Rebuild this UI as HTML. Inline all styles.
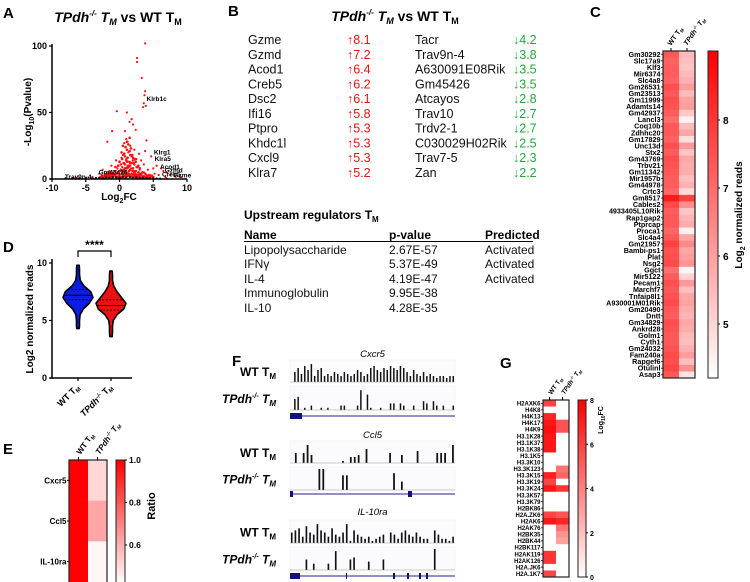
<!DOCTYPE html>
<html><head><meta charset="utf-8">
<style>
html,body{margin:0;padding:0;background:#fff;}
svg{display:block;font-family:"Liberation Sans",Arial,sans-serif;}
</style></head>
<body>
<svg id="fig" width="750" height="582" viewBox="0 0 750 582" xmlns="http://www.w3.org/2000/svg">
<text x="3" y="18" font-size="15" font-weight="bold">A</text>
<text x="228" y="16" font-size="15" font-weight="bold">B</text>
<text x="590" y="17" font-size="15" font-weight="bold">C</text>
<text x="3" y="252" font-size="15" font-weight="bold">D</text>
<text x="3" y="454" font-size="15" font-weight="bold">E</text>
<text x="232" y="366" font-size="15" font-weight="bold">F</text>
<text x="500" y="368" font-size="15" font-weight="bold">G</text>

<text x="118" y="22" font-size="14" font-weight="bold" text-anchor="middle"><tspan font-style="italic">TPdh</tspan><tspan font-size="8" dy="-6" font-style="italic">-/-</tspan><tspan dy="6" font-style="italic"> T</tspan><tspan font-size="9" dy="3" font-style="italic">M</tspan><tspan dy="-3"> vs WT T</tspan><tspan font-size="9" dy="3">M</tspan></text>
<g id="volcano"></g>

<text x="395" y="21" font-size="14" font-weight="bold" text-anchor="middle"><tspan font-style="italic">TPdh</tspan><tspan font-size="8" dy="-6" font-style="italic">-/-</tspan><tspan dy="6" font-style="italic"> T</tspan><tspan font-size="9" dy="3" font-style="italic">M</tspan><tspan dy="-3"> vs WT T</tspan><tspan font-size="9" dy="3">M</tspan></text>
<g id="genetable"></g>

<g>
<text x="244" y="219" font-size="12" font-weight="bold">Upstream regulators T<tspan font-size="8" dy="3">M</tspan></text>
<text x="244" y="239" font-size="12" font-weight="bold">Name</text>
<text x="389" y="239" font-size="12" font-weight="bold">p-value</text>
<text x="485" y="239" font-size="12" font-weight="bold">Predicted</text>
<line x1="244" y1="241.5" x2="533" y2="241.5" stroke="#000" stroke-width="1"/>
<g font-size="12" fill="#111">
<text x="244" y="254">Lipopolysaccharide</text><text x="389" y="254">2.67E-57</text><text x="485" y="254">Activated</text>
<text x="244" y="268">IFNγ</text><text x="389" y="268">5.37E-49</text><text x="485" y="268">Activated</text>
<text x="244" y="283">IL-4</text><text x="389" y="283">4.19E-47</text><text x="485" y="283">Activated</text>
<text x="244" y="297">Immunoglobulin</text><text x="389" y="297">9.95E-38</text>
<text x="244" y="312">IL-10</text><text x="389" y="312">4.28E-35</text>
</g></g>

<g id="heatC"></g>
<g id="violin"></g>
<g id="heatE"></g>
<g id="tracks"></g>
<g id="heatG"></g>
</svg>
<script>
// ---------- DATA ----------
const volcanoRedFC = [3.8,2.6,2.6,3.3,3.8,3.7,3.6,3.5,3.9,-0.4,1.8,2.0,1.1,1.5,0.8,-1.1,2.4,4.0,1.0,1.2,0.7,3.8,4.7,-1.8,1.6,2.2,0.9,1.3,2.9,0.5,1.8,2.5,3.2,0.3,1.0,1.5,-0.5,2.1,0.7,3.6,5.5,6.2,5.0,-1.2,1.2,2.7,0.4,-0.3,1.7,3.0,4.2,6.5,7.0,-2.5,-1.5,0.2,0.9,2.0,2.8,3.6,5.2,-3.0,-2,-0.8,0.6,1.4,2.3,3.1,4.5,5.8,7.5,8.2,-1,0,1,1.9,2.6,3.5,-2.3,-0.4,0.5,1.5,2.2,4.0,6.8,-4,-6.5,9.1,0.8,1.1,1.4,0.6,1.7,2.1,0.9,1.2,1.6,0.4,2.4,1.0,0.7,1.3,1.9,2.8,0.2,1.5,2.5,3.3,-0.2,0.5];
const volcanoRedP  = [102,91,88,76,66,63,57,54,55,51,45,41,50,43,36,36,37,29,30,28,27,21,17,28,25,22,24,20,19,18,17,15,14,16,15,13,14,12,12,11,10,8,8,10,10,9,9,8,8,7,7,6,5,7,6,6,6,6,5,5,4,4,4,4,4,4,4,3,3,3,3,2,3,3,3,3,2,2,2,2,2,2,1.5,1.5,1.5,1.5,1,1.5,11,13,9,7,12,6,5,8,10,5,4,3,2,3,6,2,1.5,2.5,9,4,1,3];
const volcanoBlobFC = [-2.8,-2.6,-2.4,-2.2,-2.0,-1.8,-1.6,-1.4,-1.2,-1.0,-0.8,-0.6,-0.4,-0.2,0.0,0.2,0.4,0.6,0.8,1.0,1.2,1.4,1.6,1.8,2.0,2.2,2.4,2.6,2.8,3.0,3.2,3.4,3.6,3.8,4.0,4.2,4.4,4.6,4.8,5.0,
 -2.1,-1.7,-1.3,-0.9,-0.5,-0.1,0.3,0.7,1.1,1.5,1.9,2.3,2.7,3.1,3.5,3.9,4.3,-1.9,-1.5,-1.1,-0.7,-0.3,0.1,0.5,0.9,1.3,1.7,2.1,2.5,2.9,3.3,3.7,
 -0.6,-0.2,0.2,0.6,1.0,1.4,1.8,2.2,2.6,3.0,0.0,0.4,0.8,1.2,1.6,2.0,2.4,2.8,0.3,0.7,1.1,1.5,1.9,2.3,0.9,1.3,1.7,1.1,1.5,0.5,0.8,1.2,1.6,2.0,0.6,1.0,1.4];
const volcanoBlobP  = [1.5,2.5,1,3,2,4,2.5,5,3,4.5,3,6,4,5,3,7,5,6,8,5,9,6,7,4,8,5,6,3,5,4,3,5,2,4,3,2,3,1.5,2.5,1.5,
 1,1.5,2,2,1.5,2,1.5,2.5,2,3,2,2.5,1.5,2,1.5,1,1,3,3.5,1,3,1.2,1.2,3.5,1,4,1.5,3.5,1,3,1,1.5,
 9,10,11,12,14,10,12,11,9,8,13,15,17,16,18,14,13,10,20,19,22,21,18,15,24,26,23,28,31,25,11,13,12,16,7,8,10];
const volcanoBlackFC = [-8,-7,-6,-5,-4,-3.5,-3,-2.5,-2,-1.5,-1,-0.5,0,0.5,1,1.5,2,2.5,3,3.5,4,4.5,5,5.5,6,7];
const volcanoBlackP  = [0.5,0.4,0.3,0.6,0.5,0.8,1,0.7,1.2,1,1.5,1.3,1,1.4,1.2,1.5,1,1.3,0.9,1,0.7,0.6,0.5,0.4,0.3,0.3];
const volcanoLabels = ["Klrb1c","Klrg1","Klra5","Acod1","Gzmd","Creb5","Gzme","Gm45426","Trav9n-4"];
const volcanoLabelFC = [4.0,5.1,5.2,6.0,6.7,6.3,8.0,-3.1,-8.1];
const volcanoLabelP = [60,20,15,9,6.5,3.5,2.5,5,1.5];
const volcanoXTicks = [-10,-5,0,5,10];
const volcanoYTicks = [0,50,100];

const upGenes = ["Gzme","Gzmd","Acod1","Creb5","Dsc2","Ifi16","Ptpro","Khdc1l","Cxcl9","Klra7"];
const upValues = [8.1,7.2,6.4,6.2,6.1,5.8,5.3,5.3,5.3,5.2];
const downGenes = ["Tacr","Trav9n-4","A630091E08Rik","Gm45426","Atcayos","Trav10","Trdv2-1","C030029H02Rik","Trav7-5","Zan"];
const downValues = [4.2,3.8,3.5,3.5,2.8,2.7,2.7,2.5,2.3,2.2];

const heatCGenes = ["Gm30292","Slc17a9","Klf3","Mir6374","Slc4a8","Gm26531","Gm23513","Gm11999","Adamts14","Gm42937","Lancl3","Coq10b","Zdhhc20","Gm17829","Unc13d","Stx2","Gm43769","Trbv21","Gm11342","Mir1957b","Gm44978","Crtc3","Gm8517","Cables2","4933405L10Rik","Rap1gap2","Ptprcap","Proca1","Slc4a4","Gm21957","Bambi-ps1","Plat","Nsg2","Ggct","Mir5122","Pecam1","Marchf7","Tnfaip8l1","A930001M01Rik","Gm20490","Dntt","Gm34829","Ankrd28","Golm1","Cyth1","Gm24032","Fam240a","Rapgef6","Otulinl","Asap3"];
const heatCWT = [7.6,7.4,7.5,7.5,7.4,7.8,7.6,7.8,7.7,7.5,7.2,7.6,7.6,7.4,7.8,7.5,7.8,7.7,7.6,7.5,7.5,7.3,8.9,7.9,7.5,7.6,7.6,7.3,7.6,8.1,7.7,7.8,7.9,7.1,7.5,7.8,7.6,7.7,7.9,7.6,7.5,7.8,7.7,7.6,7.6,7.7,7.9,7.8,8.0,7.6];
const heatCKO = [5.6,5.5,5.4,5.6,5.8,6.2,5.6,6.1,6.2,5.3,4.5,5.6,6.0,4.9,6.3,5.4,6.0,5.9,5.9,5.5,5.8,5.0,8.1,6.5,5.4,5.7,5.9,4.5,6.0,6.6,6.0,6.2,6.4,4.4,5.1,6.3,5.5,6.0,6.1,5.9,5.7,6.0,5.9,5.6,5.5,5.8,6.2,5.5,6.5,4.8];
const heatCTicks = [5,6,7,8];

const violinLevels = [3.5,4,4.5,5,5.5,6,6.5,7,7.5,8,8.5,9,9.5,10];
const violinWT = [0,0,0.04,0.07,0.14,0.35,0.75,1.0,0.85,0.4,0.15,0.07,0.04,0];
const violinKO = [0,0.04,0.08,0.15,0.4,0.85,1.0,0.7,0.4,0.18,0.08,0.04,0,0];
const violinWTRange = [4.3,9.8];
const violinKORange = [3.6,9.3];
const violinWTQuart = [6.8,7.2,7.7];
const violinKOQuart = [5.9,6.3,6.8];
const violinYTicks = [0,5,10];

const heatEGenes = ["Cxcr5","Ccl5","IL-10ra"];
const heatEWT = [1.0,1.0,1.0];
const heatEKO = [0.52,0.63,0.45];
const heatETicks = [0.6,0.8,1.0];

const trackCxcr5WT = [0,.5,.7,.4,.8,.6,.9,.3,.6,.7,.3,.4,.3,.5,.4,.3,.5,.4,.3,.4,.6,.5,.3,.4,.7,.8,.6,.5,.7,.6,.8,.7,.6,.8,.7,.5,.3,.6,.4,.3,.5,.3,.4,.3,.2,.3,.3,.2,.3,.3];
const trackCxcr5KO = [0,.5,.6,0,.1,0,.2,0,0,.1,0,.1,0,0,0,.2,.2,0,0,0,.2,.9,0,.7,.1,0,0,.1,0,0,.3,.3,0,.3,.2,0,0,.2,0,0,.4,.3,0,.4,.2,0,.2,0,0,.2];
const trackCcl5WT = [0,.5,0,.5,.9,.4,0,0,0,0,0,0,0,.1,0,.3,.3,.4,0,.7,0,0,0,0,0,.5,0,0,.4,0,0,0,.6,0,0,0,0,.5,.5,.5,0,.9];
const trackCcl5KO = [0,0,0,0,0,0,0,1,1,0,0,0,0,.7,.7,0,0,0,0,0,0,0,0,0,0,0,.8,0,.4,0,0,0,0,0,0,0,0,0,0,0,0,0];
const trackIl10WT = [.5,.6,.7,.3,.8,.5,.4,.9,.6,.5,.3,.7,.4,.3,.5,.9,.1,.6,.4,.3,.2,.3,.1,.2,.3,.4,0,.5,.4,.2,.5,.6,.4,.3,.5,.3,.2,.2,0,.6,.4,.2,.2,.1,.3];
const trackIl10KO = [0,0,0,0,.5,0,.3,0,0,0,.3,0,.9,0,0,0,.5,.6,0,0,0,.4,0,0,0,.5,0,0,0,0,0,0,0,0,0,0,0,0,0,1,0,0,0,0,0];

const heatGMarks = ["H2AXK6","H4K8","H4K13","H4K17","H4K9","H3.1K28","H3.1K37","H3.1K38","H3.1K5","H3.3K10","H3.3K123","H3.3K15","H3.3K19","H3.3K24","H3.3K57","H3.3K79","H2BK86","H2A.ZK6","H2AK6","H2AK76","H2BK35","H2BK44","H2BK117","H2AK119","H2AK126","H2A.JK6","H2A.1K7"];
const heatGWT = [6.0,0,7.0,7.5,7.8,7.5,7.5,7.5,0,0,0,7.2,6.0,7.5,0,0,0,6.0,7.5,0,0,0,0,6.5,6.5,0,6.0];
const heatGKO = [0,0,0,5.5,5.5,0,0,0,0,0,4.5,5.0,0,6.5,0,0,0,5.5,7.0,4.5,3.5,3.0,0,0,0,0,0];
const heatGTicks = [0,2,4,6,8];

// ---------- helpers ----------
const NS = "http://www.w3.org/2000/svg";
function mk(parent, tag, attrs, text){
  const e = document.createElementNS(NS, tag);
  for (const k in attrs) e.setAttribute(k, attrs[k]);
  if (text !== undefined) e.textContent = text;
  parent.appendChild(e);
  return e;
}
function redScale(t){
  t = Math.max(0, Math.min(1, t));
  const gb = Math.round(255*(1-t));
  return `rgb(255,${gb},${gb})`;
}
function colHeader(g, x, y, size, ko){
  const t = mk(g,'text',{x:x,y:y,'font-size':size,'font-weight':'bold','text-anchor':'start',transform:`rotate(-55 ${x} ${y})`});
  if (ko){
    mk(t,'tspan',{'font-style':'italic'},'TPdh');
    mk(t,'tspan',{'font-size':size*0.65,dy:-size*0.4,'font-style':'italic'},'-/-');
    mk(t,'tspan',{dy:size*0.4,'font-style':'italic'},' T');
    mk(t,'tspan',{'font-size':size*0.65,dy:size*0.25,'font-style':'italic'},'M');
  } else {
    mk(t,'tspan',{},'WT T');
    mk(t,'tspan',{'font-size':size*0.65,dy:size*0.25},'M');
  }
  return t;
}

// ---------- Panel A ----------
(function(){
  const g = document.getElementById('volcano');
  const X0=52, X1=187, Y0=179, Y1=46;
  const xs = v => X0 + (v+10)/20*(X1-X0);
  const ys = v => Y0 - v/100*(Y0-Y1);
  for (let i=0;i<volcanoBlobFC.length;i++){
    const c = mk(g,'circle',{cx:xs(volcanoBlobFC[i]),cy:ys(volcanoBlobP[i]),r:1.3,fill:'#ff1010'});
    
    
  }
  for (let i=0;i<volcanoRedFC.length;i++){
    const c = mk(g,'circle',{cx:xs(volcanoRedFC[i]),cy:ys(volcanoRedP[i]),r:1.1,fill:'#ff1010'});
    
    
  }
  for (let i=0;i<volcanoBlackFC.length;i++){
    const c = mk(g,'circle',{cx:xs(volcanoBlackFC[i]),cy:ys(volcanoBlackP[i]),r:1.1,fill:'#000'});
    
    
  }
  mk(g,'line',{x1:X0,y1:Y1-2,x2:X0,y2:Y0,stroke:'#000','stroke-width':1.5});
  mk(g,'line',{x1:X0-2,y1:Y0,x2:X1,y2:Y0,stroke:'#000','stroke-width':1.5});
  volcanoXTicks.forEach(v=>{
    mk(g,'line',{x1:xs(v),y1:Y0,x2:xs(v),y2:Y0+3,stroke:'#000','stroke-width':1.2});
    const t = mk(g,'text',{x:xs(v),y:Y0+12,'font-size':9,'font-weight':'bold','text-anchor':'middle'},String(v));
    
    
  });
  volcanoYTicks.forEach(v=>{
    mk(g,'line',{x1:X0-3,y1:ys(v),x2:X0,y2:ys(v),stroke:'#000','stroke-width':1.2});
    const t = mk(g,'text',{x:X0-5,y:ys(v)+3,'font-size':9,'font-weight':'bold','text-anchor':'end'},String(v));
    
    
  });
  for (let i=0;i<volcanoLabels.length;i++){
    const t = mk(g,'text',{x:xs(volcanoLabelFC[i]),y:ys(volcanoLabelP[i])+2,'font-size':6.5,'font-weight':'bold'},volcanoLabels[i]);
    
    
  }
  const xl = mk(g,'text',{x:119,y:200,'font-size':10,'font-weight':'bold','text-anchor':'middle'},'');
  
  
  mk(xl,'tspan',{},'Log');mk(xl,'tspan',{'font-size':7,dy:3},'2');mk(xl,'tspan',{dy:-3},'FC');
  const yl = mk(g,'text',{x:0,y:0,'font-size':10,'font-weight':'bold','text-anchor':'middle',transform:'translate(31,112) rotate(-90)'},'');
  
  
  mk(yl,'tspan',{},'-Log');mk(yl,'tspan',{'font-size':7,dy:3},'10');mk(yl,'tspan',{dy:-3},'(Pvalue)');
})();

// ---------- Panel B ----------
(function(){
  const g = document.getElementById('genetable');
  const yAt = i => 44 + i*14.75;
  for (let i=0;i<upGenes.length;i++){
    const a = mk(g,'text',{x:248,y:yAt(i),'font-size':12.5,fill:'#111'},upGenes[i]);
    
    
    const b = mk(g,'text',{x:347,y:yAt(i),'font-size':12.5,fill:'#ee1111'},'↑'+upValues[i].toFixed(1));
    
    
    const c = mk(g,'text',{x:415,y:yAt(i),'font-size':12.5,fill:'#111'},downGenes[i]);
    
    
    const d = mk(g,'text',{x:513,y:yAt(i),'font-size':12.5,fill:'#1faa3a'},'↓'+downValues[i].toFixed(1));
    
    
  }
})();

// ---------- Panel C ----------
(function(){
  const g = document.getElementById('heatC');
  const X0=663, CW=16, Y0=51, Y1=378;
  const rh = (Y1-Y0)/heatCGenes.length;
  const vmin=4.2, vmax=9.4;
  const cs = v => redScale((v-vmin)/(vmax-vmin));
  heatCGenes.forEach((gn,i)=>{
    const y = Y0 + i*rh;
    const r1 = mk(g,'rect',{x:X0,y:y,width:CW,height:rh+0.4,fill:cs(heatCWT[i])});
    
    
    const r2 = mk(g,'rect',{x:X0+CW,y:y,width:CW,height:rh+0.4,fill:cs(heatCKO[i])});
    
    
    mk(g,'line',{x1:X0-2,y1:y+rh/2,x2:X0,y2:y+rh/2,stroke:'#000','stroke-width':0.8});
    const t = mk(g,'text',{x:X0-2.5,y:y+rh/2+2.5,'font-size':7.2,'font-weight':'bold','text-anchor':'end'},gn);
    
    
  });
  mk(g,'rect',{x:X0,y:Y0,width:2*CW,height:Y1-Y0,fill:'none',stroke:'#222','stroke-width':1.2});
  mk(g,'line',{x1:X0+CW/2,y1:Y0-3,x2:X0+CW/2,y2:Y0,stroke:'#000'});
  mk(g,'line',{x1:X0+1.5*CW,y1:Y0-3,x2:X0+1.5*CW,y2:Y0,stroke:'#000'});
  colHeader(g, X0+CW/2, Y0-5, 7, false);
  colHeader(g, X0+1.5*CW, Y0-5, 7, true);
  const CX=708, CWb=10;
  const cy = v => 324 - (v-5)*68;
  const grad = mk(g,'linearGradient',{id:'gradC',x1:0,y1:1,x2:0,y2:0});
  mk(grad,'stop',{offset:0,'stop-color':'#fff'});
  mk(grad,'stop',{offset:1,'stop-color':'#ff0000'});
  mk(g,'rect',{x:CX,y:Y0,width:CWb,height:Y1-Y0,fill:'url(#gradC)',stroke:'#222','stroke-width':1});
  heatCTicks.forEach(v=>{
    mk(g,'line',{x1:CX+CWb,y1:cy(v),x2:CX+CWb+2,y2:cy(v),stroke:'#000'});
    const t = mk(g,'text',{x:CX+CWb+5,y:cy(v)+4,'font-size':10,'font-weight':'bold'},String(v));
    
    
  });
  const tl = mk(g,'text',{x:0,y:0,'font-size':10,'font-weight':'bold','text-anchor':'middle',transform:'translate(742,215) rotate(-90)'},'');
  
  
  mk(tl,'tspan',{},'Log');mk(tl,'tspan',{'font-size':7,dy:3},'2');mk(tl,'tspan',{dy:-3},' normalized reads');
})();

// ---------- Panel D ----------
(function(){
  const g = document.getElementById('violin');
  const X0=52, X1=132, Y0=378, Y10=263;
  const ys = v => Y0 - v/10*(Y0-Y10);
  const HW = 15;
  function violin(cx, dens, range, quart, fill, name){
    const pts=[];
    for (let i=0;i<violinLevels.length;i++){
      const lv = violinLevels[i];
      if (lv < range[0] || lv > range[1]) continue;
      pts.push([lv, Math.max(dens[i]*HW, 1.5)]);
    }
    pts.unshift([range[0],1.2]); pts.push([range[1],1.2]);
    let d = 'M'+cx+','+ys(range[0]);
    pts.forEach(p=>{ d += ' L'+(cx+p[1])+','+ys(p[0]); });
    for (let i=pts.length-1;i>=0;i--){ d += ' L'+(cx-pts[i][1])+','+ys(pts[i][0]); }
    d+='Z';
    const p = mk(g,'path',{d:d,fill:fill,stroke:'#000','stroke-width':1.6,'stroke-linejoin':'round'});
    
    
    quart.forEach((q,k)=>{
      let w=0;
      for (let i=0;i<violinLevels.length-1;i++){
        if (q>=violinLevels[i] && q<=violinLevels[i+1]){
          const f=(q-violinLevels[i])/(violinLevels[i+1]-violinLevels[i]);
          w=(dens[i]*(1-f)+dens[i+1]*f)*HW;
        }
      }
      mk(g,'line',{x1:cx-w,y1:ys(q),x2:cx+w,y2:ys(q),stroke:'#000','stroke-width':0.8,'stroke-dasharray':k==1?'none':'2,1.5'});
    });
  }
  violin(78, violinWT, violinWTRange, violinWTQuart, '#0a1ee6', 'violin-wt');
  violin(111, violinKO, violinKORange, violinKOQuart, '#ee1111', 'violin-ko');
  mk(g,'line',{x1:X0,y1:Y10-4,x2:X0,y2:Y0,stroke:'#000','stroke-width':1.5});
  mk(g,'line',{x1:X0-2,y1:Y0,x2:X1,y2:Y0,stroke:'#000','stroke-width':1.5});
  violinYTicks.forEach(v=>{
    mk(g,'line',{x1:X0-3,y1:ys(v),x2:X0,y2:ys(v),stroke:'#000','stroke-width':1.2});
    const t = mk(g,'text',{x:X0-5,y:ys(v)+3,'font-size':9,'font-weight':'bold','text-anchor':'end'},String(v));
    
    
  });
  [78,111].forEach(x=>mk(g,'line',{x1:x,y1:Y0,x2:x,y2:Y0+3,stroke:'#000','stroke-width':1.2}));
  mk(g,'path',{d:'M78,257 V251 H111 V257',fill:'none',stroke:'#000','stroke-width':1.2});
  const s = mk(g,'text',{x:94.5,y:249,'font-size':12,'font-weight':'bold','text-anchor':'middle'},'****');
  
  
  const yl = mk(g,'text',{x:0,y:0,'font-size':10,'font-weight':'bold','text-anchor':'middle',transform:'translate(33,319) rotate(-90)'},'Log2 normalized reads');
  
  
  const a = mk(g,'text',{x:80,y:388,'font-size':9,'font-weight':'bold','text-anchor':'end',transform:'rotate(-45 80 388)'},'');
  mk(a,'tspan',{},'WT T');mk(a,'tspan',{'font-size':6,dy:2},'M');
  
  
  const b = mk(g,'text',{x:113,y:388,'font-size':9,'font-weight':'bold','text-anchor':'end',transform:'rotate(-45 113 388)'},'');
  mk(b,'tspan',{'font-style':'italic'},'TPdh');mk(b,'tspan',{'font-size':6,dy:-3,'font-style':'italic'},'-/-');mk(b,'tspan',{dy:3},' T');mk(b,'tspan',{'font-size':6,dy:2},'M');
  
  
})();

// ---------- Panel E ----------
(function(){
  const g = document.getElementById('heatE');
  const X0=69, CW=19, Y0=460, Y1=582;
  const rh=(Y1-Y0)/heatEGenes.length;
  const vmin=0.43;
  const cs = v => redScale((v-vmin)/(1-vmin));
  heatEGenes.forEach((gn,i)=>{
    const y=Y0+i*rh;
    const r1=mk(g,'rect',{x:X0,y:y,width:CW,height:rh+0.3,fill:cs(heatEWT[i])});
    
    
    const r2=mk(g,'rect',{x:X0+CW,y:y,width:CW,height:rh+0.3,fill:cs(heatEKO[i])});
    
    
    mk(g,'line',{x1:X0-2,y1:y+rh/2,x2:X0,y2:y+rh/2,stroke:'#000'});
    const t=mk(g,'text',{x:X0-2.5,y:y+rh/2+3,'font-size':8,'font-weight':'bold','text-anchor':'end'},gn);
    
    
  });
  mk(g,'rect',{x:X0,y:Y0,width:2*CW,height:Y1-Y0+2,fill:'none',stroke:'#222','stroke-width':1.2});
  mk(g,'line',{x1:X0+CW/2,y1:Y0-3,x2:X0+CW/2,y2:Y0,stroke:'#000'});
  mk(g,'line',{x1:X0+1.5*CW,y1:Y0-3,x2:X0+1.5*CW,y2:Y0,stroke:'#000'});
  colHeader(g, X0+CW/2+2, Y0-5, 8, false);
  colHeader(g, X0+1.5*CW+2, Y0-5, 8, true);
  const CX=116, CWb=9;
  const cy = v => 460 + (1-v)*212.5;
  const grad = mk(g,'linearGradient',{id:'gradE',x1:0,y1:1,x2:0,y2:0});
  mk(grad,'stop',{offset:0,'stop-color':'#fff'});
  mk(grad,'stop',{offset:1,'stop-color':'#ff0000'});
  mk(g,'rect',{x:CX,y:Y0,width:CWb,height:Y1-Y0+2,fill:'url(#gradE)',stroke:'#222','stroke-width':1});
  heatETicks.forEach(v=>{
    mk(g,'line',{x1:CX+CWb,y1:cy(v),x2:CX+CWb+2,y2:cy(v),stroke:'#000'});
    const t=mk(g,'text',{x:CX+CWb+4,y:cy(v)+3,'font-size':8.5,'font-weight':'bold'},v.toFixed(1));
    
    
  });
  const tl=mk(g,'text',{x:0,y:0,'font-size':11,'font-weight':'bold','text-anchor':'middle',transform:'translate(155,506) rotate(-90)'},'Ratio');
  
  
})();

// ---------- Panel F ----------
(function(){
  const g = document.getElementById('tracks');
  const TX0=290, TX1=455;
  const sections = [
    {title:'Cxcr5', ty:357, wt:[360,382], ko:[386,410], gene:416, wtD:trackCxcr5WT, koD:trackCxcr5KO, exons:[[290,302]]},
    {title:'Ccl5', ty:438, wt:[441,463], ko:[467,490], gene:494, wtD:trackCcl5WT, koD:trackCcl5KO, exons:[[290,293],[408,412]]},
    {title:'IL-10ra', ty:515, wt:[520,543], ko:[547,570], gene:576, wtD:trackIl10WT, koD:trackIl10KO, exons:[[290,300],[346,347],[393,395],[407,409],[419,421],[426,428]]}
  ];
  function drawTrack(data, y0, y1, name){
    mk(g,'rect',{x:TX0,y:y0,width:TX1-TX0,height:y1-y0,fill:'#fbfbfd',stroke:'#eee','stroke-width':0.5});
    const n=data.length, step=(TX1-TX0)/n;
    const hs = v => (y1-y0-2)*v;
    for (let i=0;i<n;i++){
      if (data[i]<=0) continue;
      const r=mk(g,'rect',{x:TX0+i*step+step*0.25,y:y1-hs(data[i]),width:Math.max(1,step*0.45),height:hs(data[i]),fill:'#111'});
      
      
    }
    mk(g,'line',{x1:TX0,y1:y1,x2:TX1,y2:y1,stroke:'#999','stroke-width':0.5});
  }
  sections.forEach(s=>{
    const t=mk(g,'text',{x:(TX0+TX1)/2,y:s.ty,'font-size':9.5,'font-style':'italic','text-anchor':'middle'},s.title);
    
    
    drawTrack(s.wtD, s.wt[0], s.wt[1], 'track-bar-wt');
    drawTrack(s.koD, s.ko[0], s.ko[1], 'track-bar-ko');
    const a=mk(g,'text',{x:276,y:(s.wt[0]+s.wt[1])/2+5,'font-size':12,'font-weight':'bold','text-anchor':'end'},'');
    mk(a,'tspan',{},'WT T');mk(a,'tspan',{'font-size':8,dy:3},'M');
    
    
    const b=mk(g,'text',{x:276,y:(s.ko[0]+s.ko[1])/2+5,'font-size':12,'font-weight':'bold','font-style':'italic','text-anchor':'end'},'');
    mk(b,'tspan',{},'TPdh');mk(b,'tspan',{'font-size':7,dy:-5},'-/-');mk(b,'tspan',{dy:5},' T');mk(b,'tspan',{'font-size':8,dy:3},'M');
    
    
    mk(g,'line',{x1:TX0,y1:s.gene,x2:TX1,y2:s.gene,stroke:'#22228a','stroke-width':1});
    s.exons.forEach(e=>mk(g,'rect',{x:e[0],y:s.gene-3,width:e[1]-e[0],height:6,fill:'#12127a'}));
  });
})();

// ---------- Panel G ----------
(function(){
  const g = document.getElementById('heatG');
  const X0=543, CW=13, Y0=400, Y1=577;
  const rh=(Y1-Y0)/heatGMarks.length;
  const cs = v => redScale(v/8.2);
  heatGMarks.forEach((m,i)=>{
    const y=Y0+i*rh;
    const r1=mk(g,'rect',{x:X0,y:y,width:CW,height:rh+0.3,fill:cs(heatGWT[i])});
    
    
    const r2=mk(g,'rect',{x:X0+CW,y:y,width:CW,height:rh+0.3,fill:cs(heatGKO[i])});
    
    
    mk(g,'line',{x1:X0-2,y1:y+rh/2,x2:X0,y2:y+rh/2,stroke:'#000','stroke-width':0.8});
    const t=mk(g,'text',{x:X0-2.5,y:y+rh/2+2.2,'font-size':6,'font-weight':'bold','text-anchor':'end'},m);
    
    
  });
  mk(g,'rect',{x:X0,y:Y0,width:2*CW,height:Y1-Y0,fill:'none',stroke:'#222','stroke-width':1.2});
  mk(g,'line',{x1:X0+CW/2,y1:Y0-3,x2:X0+CW/2,y2:Y0,stroke:'#000'});
  mk(g,'line',{x1:X0+1.5*CW,y1:Y0-3,x2:X0+1.5*CW,y2:Y0,stroke:'#000'});
  colHeader(g, X0+CW/2+2, Y0-5, 6.5, false);
  colHeader(g, X0+1.5*CW+2, Y0-5, 6.5, true);
  const CX=578, CWb=8;
  const cy = v => Y1 - v/8*(Y1-Y0);
  const grad = mk(g,'linearGradient',{id:'gradG',x1:0,y1:1,x2:0,y2:0});
  mk(grad,'stop',{offset:0,'stop-color':'#fff'});
  mk(grad,'stop',{offset:1,'stop-color':'#ff0000'});
  mk(g,'rect',{x:CX,y:Y0,width:CWb,height:Y1-Y0,fill:'url(#gradG)',stroke:'#222','stroke-width':1});
  heatGTicks.forEach(v=>{
    mk(g,'line',{x1:CX+CWb,y1:cy(v),x2:CX+CWb+2,y2:cy(v),stroke:'#000'});
    const t=mk(g,'text',{x:CX+CWb+4,y:cy(v)+3,'font-size':7,'font-weight':'bold'},String(v));
    
    
  });
  const tl=mk(g,'text',{x:0,y:0,'font-size':7,'font-weight':'bold','text-anchor':'middle',transform:'translate(603,420) rotate(-90)'},'');
  
  
  mk(tl,'tspan',{},'Log');mk(tl,'tspan',{'font-size':5,dy:2},'10');mk(tl,'tspan',{dy:-2},'FC');
})();
</script>
</body></html>
